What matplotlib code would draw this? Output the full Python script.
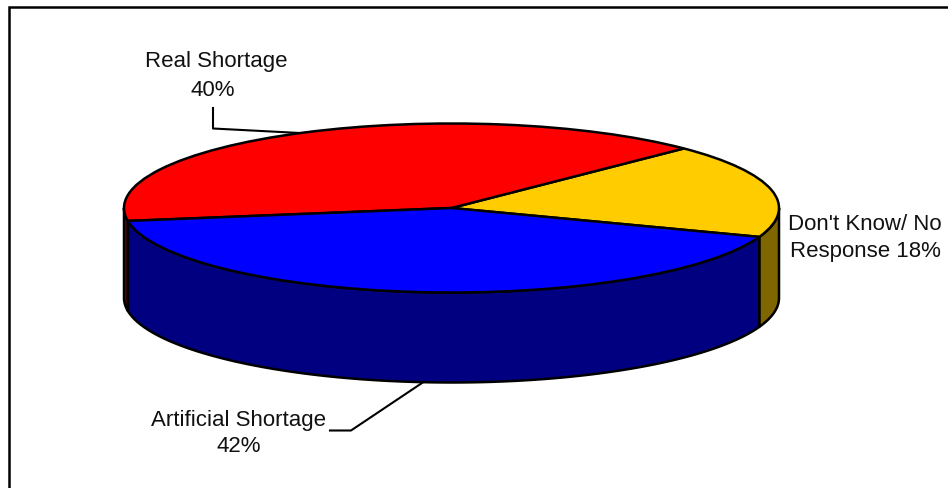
import numpy as np
import matplotlib
matplotlib.use("Agg")
import matplotlib.pyplot as plt
from matplotlib.patches import Polygon

plt.rcParams['font.family'] = ['Liberation Sans', 'DejaVu Sans']

W, H = 948, 489

# shares in percent, in drawing order starting from the yellow slice
categories = ["Don't Know/ No\nResponse 18%", "Real Shortage\n40%", "Artificial Shortage\n42%"]
shares = [18, 40, 42]
top_colors = ['#FFCC00', '#FF0000', '#0000FF']
side_colors = ['#806600', '#800000', '#000080']

cx, cy = 451.5, 209
rx, ry = 327.5, 84.5
depth = 90
lw = 1.8

fig = plt.figure(figsize=(W / 100, H / 100), dpi=100, facecolor='white')

# overlay in pixel coordinates for frame, sides and labels
bg = fig.add_axes([0, 0, 1, 1], zorder=1)
bg.set_xlim(0, W)
bg.set_ylim(H, 0)
bg.axis('off')

# pie top: an axes of its own, squashed so that the circle becomes the ellipse
pad = 1.25
ax = fig.add_axes([(cx - rx * pad) / W, 1 - (cy + ry * pad) / H,
                   2 * rx * pad / W, 2 * ry * pad / H], zorder=2)
wedges, _ = ax.pie(shares, colors=top_colors, startangle=-20, counterclock=True,
                   wedgeprops=dict(edgecolor='black', linewidth=lw))
ax.set_aspect('auto')
ax.set_xlim(-pad, pad)
ax.set_ylim(-pad, pad)
ax.patch.set_alpha(0)


def rim(a):
    a = np.radians(a)
    return cx + rx * np.cos(a), cy - ry * np.sin(a)


# the side wall, only the part of each slice that faces the viewer
for w, col in zip(wedges, side_colors):
    lo, hi = w.theta1 % 360, w.theta2 % 360
    if hi < lo:
        hi += 360
    spans = [(max(lo, 180), min(hi, 360)), (max(lo, 540), min(hi, 720))]
    for a0, a1 in spans:
        if a1 <= a0:
            continue
        x, y = rim(np.linspace(a0, a1, 120))
        pts = np.r_[np.c_[x, y], np.c_[x[::-1], y[::-1] + depth]]
        bg.add_patch(Polygon(pts, closed=True, facecolor=col, edgecolor='black',
                             linewidth=lw, joinstyle='round'))

# chart frame, only left and top are inside the picture
bg.plot([9, 9, W], [H, 7.5, 7.5], color='black', lw=1.8, solid_joinstyle='miter')

# leader lines
bg.plot([213, 213, 300], [109, 129.5, 134], color='black', lw=1.5)
bg.plot([330, 351, 422], [431.5, 431.5, 384], color='black', lw=1.5)

# labels
text_kw = dict(ha='center', va='center', fontsize=16, color='#111111', linespacing=1.36)
bg.text(239, 433.5, categories[2], **text_kw)
bg.text(865, 238, categories[0], **text_kw)
# the 40% sits a little left of the line above it
real_name, real_pct = categories[1].split('\n')
bg.text(216.5, 62, real_name, **text_kw)
bg.text(212.5, 90, real_pct, **text_kw)

fig.savefig('out.png', dpi=100)
